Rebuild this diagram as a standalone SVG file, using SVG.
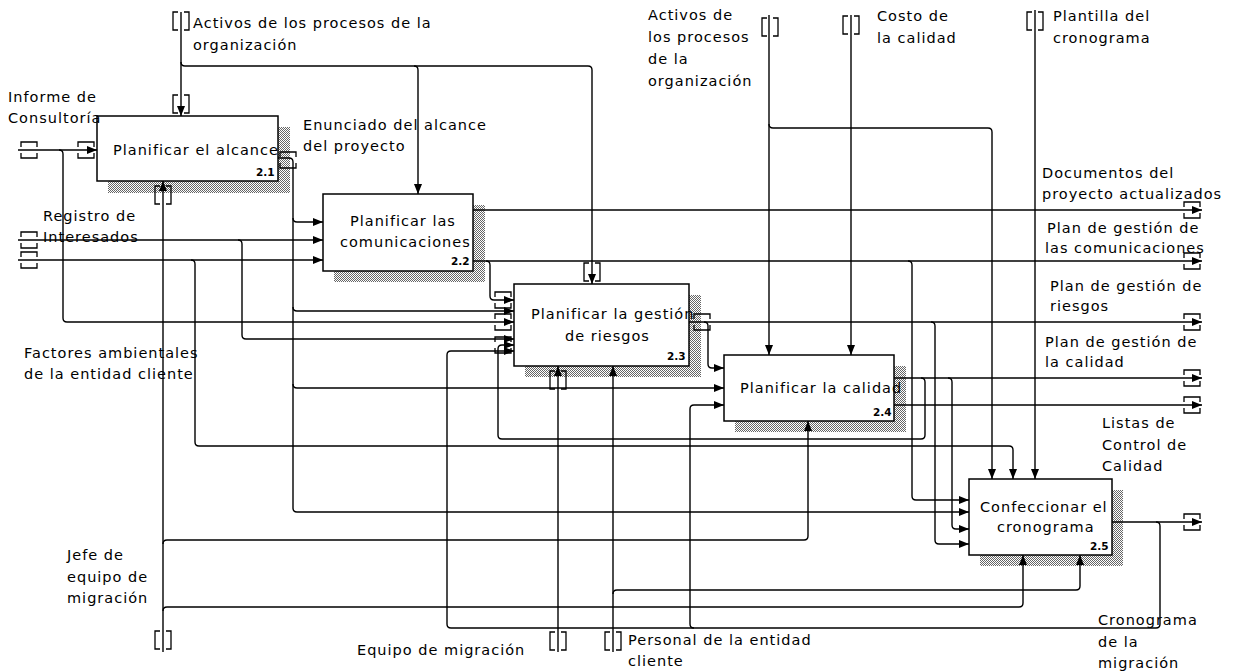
<svg xmlns="http://www.w3.org/2000/svg" width="1233" height="672" viewBox="0 0 1233 672">
<defs>
<pattern id="hatch" width="2" height="2" patternUnits="userSpaceOnUse">
<rect width="2" height="2" fill="#fff"/>
<rect width="1" height="1" fill="#666"/>
<rect x="1" y="1" width="1" height="1" fill="#666"/>
</pattern>
<marker id="ah" markerWidth="10" markerHeight="8" refX="10" refY="4" orient="auto" markerUnits="userSpaceOnUse">
<path d="M0,0 L10,4 L0,8 z" fill="#000"/>
</marker>
<path id="th" d="M-8,-3 V-8 H8 V-3 M-8,3 V8 H8 V3" fill="none" stroke="#000" stroke-width="1.3"/>
<path id="tv" d="M-3,-9 H-8 V9 H-3 M3,-9 H8 V9 H3" fill="none" stroke="#000" stroke-width="1.3"/>
</defs>
<style>
.c{fill:none;stroke:#000;stroke-width:1.4}
.a{marker-end:url(#ah)}
.box{fill:#fff;stroke:#000;stroke-width:1.5}
.sh{fill:url(#hatch)}
text{font-family:"DejaVu Sans",sans-serif;font-size:14.5px;letter-spacing:1px;fill:#000}
.n{font-size:10.5px;letter-spacing:0;font-weight:bold}
</style>
<rect width="1233" height="672" fill="#fff"/>

<g id="node-2.1">
<rect class="sh" x="108" y="127" width="182" height="66"/>
<rect class="box" x="97" y="116" width="181" height="65"/>
<text x="113" y="155">Planificar el alcance</text>
<text class="n" x="256" y="176">2.1</text>
</g>
<g id="node-2.2">
<rect class="sh" x="334" y="205" width="151" height="77"/>
<rect class="box" x="323" y="194" width="150" height="77"/>
<text x="350" y="226">Planificar las</text>
<text x="340" y="247">comunicaciones</text>
<text class="n" x="451" y="265">2.2</text>
</g>
<g id="node-2.3">
<rect class="sh" x="525" y="295" width="176" height="82"/>
<rect class="box" x="514" y="284" width="175" height="82"/>
<text x="531" y="319">Planificar la gestión</text>
<text x="565" y="341">de riesgos</text>
<text class="n" x="667" y="360">2.3</text>
</g>
<g id="node-2.4">
<rect class="sh" x="735" y="366" width="171" height="66"/>
<rect class="box" x="724" y="355" width="170" height="66"/>
<text x="740" y="393">Planificar la calidad</text>
<text class="n" x="873" y="416">2.4</text>
</g>
<g id="node-2.5">
<rect class="sh" x="980" y="490" width="143" height="76"/>
<rect class="box" x="969" y="479" width="143" height="76"/>
<text x="980" y="512">Confeccionar el</text>
<text x="997" y="532">cronograma</text>
<text class="n" x="1090" y="550">2.5</text>
</g>

<g id="connectors">
<path class="c a" d="M181,12 V116"/>
<path class="c a" d="M181,62 Q181,66 185,66 H588 Q592,66 592,70 V284"/>
<path class="c a" d="M414,66 Q418,66 418,70 V194"/>
<path class="c a" d="M18,150 H97"/>
<path class="c a" d="M59,150 Q63,150 63,154 V318 Q63,322 67,322 H514"/>
<path class="c a" d="M18,240 H323"/>
<path class="c a" d="M238,240 Q242,240 242,244 V335 Q242,339 246,339 H514"/>
<path class="c a" d="M18,260 H323"/>
<path class="c a" d="M191,260 Q195,260 195,264 V442 Q195,446 199,446 H1009 Q1013,446 1013,450 V479"/>
<path class="c a" d="M163,652 V181"/>
<path class="c a" d="M163,544 Q163,540 167,540 H804 Q808,540 808,536 V421"/>
<path class="c a" d="M163,611 Q163,607 167,607 H1019 Q1023,607 1023,603 V555"/>
<path class="c a" d="M278,158 H289 Q293,158 293,162 V508 Q293,512 297,512 H969"/>
<path class="c a" d="M293,218 Q293,222 297,222 H323"/>
<path class="c a" d="M293,307 Q293,311 297,311 H514"/>
<path class="c a" d="M293,384 Q293,388 297,388 H724"/>
<path class="c a" d="M473,210 H1202"/>
<path class="c a" d="M473,261 H1202"/>
<path class="c a" d="M486,261 Q490,261 490,265 V296 Q490,300 494,300 H514"/>
<path class="c a" d="M908,261 Q912,261 912,265 V496 Q912,500 916,500 H969"/>
<path class="c a" d="M689,322 H1202"/>
<path class="c a" d="M704,322 Q708,322 708,326 V364 Q708,368 712,368 H724"/>
<path class="c a" d="M931,322 Q935,322 935,326 V540 Q935,544 939,544 H969"/>
<path class="c a" d="M894,378 H1202"/>
<path class="c a" d="M921,378 Q925,378 925,382 V435 Q925,439 921,439 H502 Q498,439 498,435 V349 Q498,345 502,345 H514"/>
<path class="c a" d="M948,378 Q952,378 952,382 V525 Q952,529 956,529 H969"/>
<path class="c a" d="M894,405 H1202"/>
<path class="c a" d="M769,15 V355"/>
<path class="c a" d="M769,124 Q769,128 773,128 H988 Q992,128 992,132 V479"/>
<path class="c a" d="M851,15 V355"/>
<path class="c a" d="M1035,10 V479"/>
<path class="c a" d="M558,652 V366"/>
<path class="c a" d="M613,652 V366"/>
<path class="c a" d="M613,594 Q613,590 617,590 H1076 Q1080,590 1080,586 V555"/>
<path class="c a" d="M1112,522 H1202"/>
<path class="c a" d="M1156,522 Q1160,522 1160,526 V624 Q1160,628 1156,628 H451 Q447,628 447,624 V355 Q447,351 451,351 H514"/>
<path class="c a" d="M694,628 Q690,628 690,624 V409 Q690,405 694,405 H724"/>
<use href="#th" x="29" y="150"/>
<use href="#th" x="86" y="150"/>
<use href="#th" x="29" y="240"/>
<use href="#th" x="29" y="260"/>
<use href="#th" x="288" y="160"/>
<use href="#th" x="702" y="322"/>
<use href="#th" x="503" y="300"/>
<use href="#th" x="503" y="322"/>
<use href="#th" x="503" y="345"/>
<use href="#th" x="1192" y="210"/>
<use href="#th" x="1192" y="261"/>
<use href="#th" x="1192" y="322"/>
<use href="#th" x="1192" y="378"/>
<use href="#th" x="1192" y="405"/>
<use href="#th" x="1192" y="522"/>
<use href="#tv" x="181" y="21"/>
<use href="#tv" x="181" y="104"/>
<use href="#tv" x="163" y="195"/>
<use href="#tv" x="592" y="272"/>
<use href="#tv" x="558" y="380"/>
<use href="#tv" x="163" y="640"/>
<use href="#tv" x="558" y="641"/>
<use href="#tv" x="613" y="641"/>
<use href="#tv" x="770" y="27"/>
<use href="#tv" x="851" y="25"/>
<use href="#tv" x="1035" y="21"/>
</g>

<g id="labels">
<text x="193" y="28">Activos de los procesos de la</text>
<text x="193" y="50">organización</text>
<text x="8" y="102">Informe de</text>
<text x="8" y="123">Consultoría</text>
<text x="303" y="130">Enunciado del  alcance</text>
<text x="303" y="151">del proyecto</text>
<text x="43" y="221">Registro de</text>
<text x="43" y="242">Interesados</text>
<text x="24" y="358">Factores ambientales</text>
<text x="24" y="379">de la entidad cliente</text>
<text x="67" y="560">Jefe de</text>
<text x="67" y="582">equipo de</text>
<text x="67" y="603">migración</text>
<text x="357" y="655">Equipo de migración</text>
<text x="628" y="645">Personal de la entidad</text>
<text x="628" y="666">cliente</text>
<text x="648" y="20">Activos de</text>
<text x="648" y="42">los procesos</text>
<text x="648" y="64">de la</text>
<text x="648" y="86">organización</text>
<text x="877" y="21">Costo de</text>
<text x="877" y="43">la calidad</text>
<text x="1053" y="21">Plantilla del</text>
<text x="1053" y="43">cronograma</text>
<text x="1042" y="178">Documentos del</text>
<text x="1042" y="199">proyecto actualizados</text>
<text x="1047" y="233">Plan de gestión de</text>
<text x="1045" y="253">las comunicaciones</text>
<text x="1050" y="291">Plan de gestión de</text>
<text x="1050" y="311">riesgos</text>
<text x="1045" y="347">Plan de gestión de</text>
<text x="1045" y="367">la calidad</text>
<text x="1102" y="428">Listas de</text>
<text x="1102" y="450">Control de</text>
<text x="1102" y="471">Calidad</text>
<text x="1098" y="625">Cronograma</text>
<text x="1098" y="647">de la</text>
<text x="1098" y="668">migración</text>
</g>
</svg>
